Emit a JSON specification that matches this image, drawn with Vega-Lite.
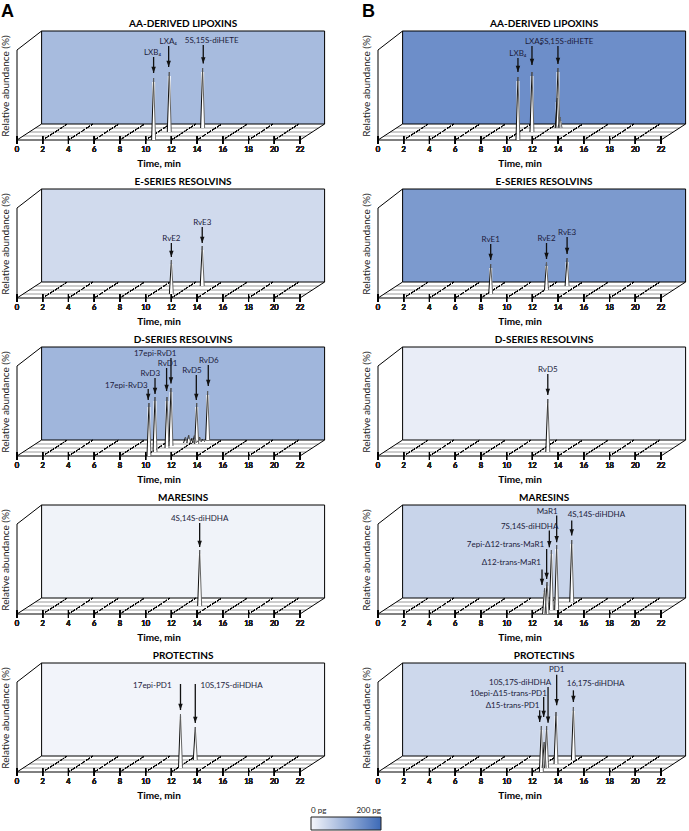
{
"$schema": "https://vega.github.io/schema/vega-lite/v6.json",
"padding": {"left": 0, "top": 1, "right": 0, "bottom": 0},
"background": "white",
"config": {"view": {"stroke": null}, "font": "Lato"},
"bounds": "flush",
"data": {"values": [
{"k":"P","p":"1A","ti":"AA-DERIVED LIPOXINS","pg":85,"ts":[2,4,6,8,10,12,14,16,18,20],"tl":[0,2,4,6,8,10,12,14,16,18,20,22]},
{"k":"P","p":"1B","ti":"AA-DERIVED LIPOXINS","pg":148,"ts":[2,4,6,8,10,12,14,16,18,20],"tl":[0,2,4,6,8,10,12,14,16,18,20,22]},
{"k":"P","p":"2A","ti":"E-SERIES RESOLVINS","pg":40,"ts":[2,4,6,8,10,12,14,16,18,20],"tl":[0,2,4,6,8,10,12,14,16,18,20,22]},
{"k":"P","p":"2B","ti":"E-SERIES RESOLVINS","pg":131,"ts":[2,4,6,8,10,12,14,16,18,20],"tl":[0,2,4,6,8,10,12,14,16,18,20,22]},
{"k":"P","p":"3A","ti":"D-SERIES RESOLVINS","pg":92,"ts":[2,4,6,8,10,12,14,16,18,20],"tl":[0,2,4,6,8,10,12,14,16,18,20,22]},
{"k":"P","p":"3B","ti":"D-SERIES RESOLVINS","pg":13,"ts":[2,4,6,8,10,12,14,16,18,20],"tl":[0,2,4,6,8,10,12,14,16,18,20,22]},
{"k":"P","p":"4A","ti":"MARESINS","pg":5,"ts":[2,4,6,8,10,12,14,16,18,20],"tl":[0,2,4,6,8,10,12,14,16,18,20,22]},
{"k":"P","p":"4B","ti":"MARESINS","pg":49,"ts":[2,4,6,8,10,12,14,16,18,20],"tl":[0,2,4,6,8,10,12,14,16,18,20,22]},
{"k":"P","p":"5A","ti":"PROTECTINS","pg":3,"ts":[2,4,6,8,10,12,14,16,18,20],"tl":[0,2,4,6,8,10,12,14,16,18,20,22]},
{"k":"P","p":"5B","ti":"PROTECTINS","pg":43,"ts":[2,4,6,8,10,12,14,16,18,20],"tl":[0,2,4,6,8,10,12,14,16,18,20,22]},
{"k":"L","p":"1A","s":"A"},{"k":"L","p":"1B","s":"B"},
{"k":"pk","p":"1A","x":10.62,"b":0,"t":62},{"k":"pk","p":"1A","x":11.84,"b":8,"t":68},{"k":"pk","p":"1A","x":14.43,"b":12,"t":72},
{"k":"pk","p":"1B","x":10.88,"b":0,"t":63},{"k":"pk","p":"1B","x":11.97,"b":8,"t":68},{"k":"pk","p":"1B","x":13.99,"b":12,"t":72},{"k":"pk","p":"1B","x":13.93,"b":12,"t":42},{"k":"pk","p":"1B","x":14.15,"b":12,"t":23},
{"k":"pk","p":"2A","x":12.0,"b":4,"t":38},{"k":"pk","p":"2A","x":14.4,"b":12,"t":52},
{"k":"pk","p":"2B","x":8.76,"b":4,"t":34},{"k":"pk","p":"2B","x":13.1,"b":8,"t":36},{"k":"pk","p":"2B","x":14.7,"b":12,"t":40},
{"k":"pk","p":"3A","x":10.26,"b":0,"t":53},{"k":"pk","p":"3A","x":10.73,"b":4,"t":59},{"k":"pk","p":"3A","x":11.66,"b":8,"t":59},{"k":"pk","p":"3A","x":11.97,"b":10,"t":68},{"k":"pk","p":"3A","x":13.97,"b":12,"t":53},{"k":"pk","p":"3A","x":14.82,"b":16,"t":65},
{"k":"pk","p":"3A","x":13.1,"b":13,"t":19},{"k":"pk","p":"3A","x":13.35,"b":13,"t":21},{"k":"pk","p":"3A","x":13.6,"b":13,"t":18},{"k":"pk","p":"3A","x":13.8,"b":13,"t":21},{"k":"pk","p":"3A","x":14.2,"b":14,"t":19},{"k":"pk","p":"3A","x":14.45,"b":14,"t":17},
{"k":"pk","p":"3B","x":13.2,"b":4,"t":57},
{"k":"pk","p":"4A","x":14.2,"b":8,"t":64},
{"k":"pk","p":"4B","x":12.95,"b":0,"t":26},{"k":"pk","p":"4B","x":13.14,"b":0,"t":32},{"k":"pk","p":"4B","x":13.48,"b":4,"t":64},{"k":"pk","p":"4B","x":13.89,"b":4,"t":69},{"k":"pk","p":"4B","x":15.06,"b":12,"t":74},
{"k":"pk","p":"5A","x":12.71,"b":4,"t":58},{"k":"pk","p":"5A","x":13.86,"b":12,"t":45},
{"k":"pk","p":"5B","x":12.7,"b":0,"t":46},{"k":"pk","p":"5B","x":12.92,"b":4,"t":30},{"k":"pk","p":"5B","x":13.11,"b":4,"t":46},{"k":"pk","p":"5B","x":13.84,"b":8,"t":60},{"k":"pk","p":"5B","x":15.19,"b":12,"t":65},
{"k":"a","p":"1A","n":"LXB₄","lx":10.54,"ly":86.6,"ax":10.62,"a1":83,"a2":67},
{"k":"a","p":"1A","n":"LXA₄","lx":11.76,"ly":97.6,"ax":11.79,"a1":94,"a2":73},
{"k":"a","p":"1A","n":"5S,15S-diHETE","lx":15.14,"ly":99,"ax":14.48,"a1":95,"a2":76.5},
{"k":"a","p":"1B","n":"LXB₄","lx":10.88,"ly":86,"ax":10.88,"a1":82,"a2":68},
{"k":"a","p":"1B","n":"LXA₄","lx":12.1,"ly":98.3,"ax":11.97,"a1":94,"a2":75},
{"k":"a","p":"1B","n":"5S,15S-diHETE","lx":14.65,"ly":98.3,"ax":13.99,"a1":94,"a2":76},
{"k":"a","p":"2A","n":"RvE2","lx":12.0,"ly":59,"ax":12.0,"a1":55,"a2":41},
{"k":"a","p":"2A","n":"RvE3","lx":14.4,"ly":75,"ax":14.4,"a1":71,"a2":55},
{"k":"a","p":"2B","n":"RvE1","lx":8.76,"ly":58,"ax":8.76,"a1":54,"a2":38},
{"k":"a","p":"2B","n":"RvE2","lx":13.1,"ly":59,"ax":13.1,"a1":55,"a2":39},
{"k":"a","p":"2B","n":"RvE3","lx":14.7,"ly":65,"ax":14.7,"a1":61,"a2":44},
{"k":"a","p":"3A","n":"17epi-RvD3","lx":8.5,"ly":70,"ax":10.2,"a1":67,"a2":56},
{"k":"a","p":"3A","n":"RvD3","lx":10.36,"ly":82,"ax":10.73,"a1":78,"a2":62},
{"k":"a","p":"3A","n":"RvD1","lx":11.71,"ly":92,"ax":11.63,"a1":88,"a2":65},
{"k":"a","p":"3A","n":"17epi-RvD1","lx":10.74,"ly":102,"ax":11.97,"a1":98,"a2":72.5},
{"k":"a","p":"3A","n":"RvD5","lx":13.6,"ly":85.4,"ax":13.94,"a1":81,"a2":56},
{"k":"a","p":"3A","n":"RvD6","lx":14.91,"ly":95,"ax":14.87,"a1":91,"a2":70},
{"k":"a","p":"3B","n":"RvD5","lx":13.2,"ly":86,"ax":13.2,"a1":82,"a2":61},
{"k":"a","p":"4A","n":"4S,14S-diHDHA","lx":14.2,"ly":94.7,"ax":14.2,"a1":91,"a2":67},
{"k":"a","p":"4B","n":"MaR1","lx":13.15,"ly":102.4,"ax":13.89,"a1":98.4,"a2":71.7},
{"k":"a","p":"4B","n":"7S,14S-diHDHA","lx":11.79,"ly":87.4,"ax":13.32,"a1":83.4,"a2":66.7},
{"k":"a","p":"4B","n":"7epi-Δ12-trans-MaR1","lx":9.91,"ly":69.4,"ax":13.11,"a1":65,"a2":35},
{"k":"a","p":"4B","n":"Δ12-trans-MaR1","lx":10.37,"ly":51,"ax":12.75,"a1":44.4,"a2":29},
{"k":"a","p":"4B","n":"4S,14S-diHDHA","lx":16.98,"ly":99.4,"ax":15.06,"a1":93.4,"a2":78.4},
{"k":"a","p":"5A","n":"17epi-PD1","lx":10.52,"ly":86,"ax":12.71,"a1":88,"a2":62},
{"k":"a","p":"5A","n":"10S,17S-diHDHA","lx":16.68,"ly":86,"ax":13.86,"a1":88,"a2":49},
{"k":"a","p":"5B","n":"PD1","lx":13.89,"ly":101.7,"ax":13.89,"a1":97.3,"a2":66.7},
{"k":"a","p":"5B","n":"10S,17S-diHDHA","lx":11.05,"ly":89.3,"ax":13.22,"a1":85,"a2":49.3},
{"k":"a","p":"5B","n":"10epi-Δ15-trans-PD1","lx":10.14,"ly":77.7,"ax":12.88,"a1":75,"a2":55},
{"k":"a","p":"5B","n":"Δ15-trans-PD1","lx":10.46,"ly":66,"ax":12.57,"a1":61.7,"a2":50},
{"k":"a","p":"5B","n":"16,17S-diHDHA","lx":16.92,"ly":87.7,"ax":15.19,"a1":81.7,"a2":70}
]},
"facet": {"field": "p", "type": "nominal", "title": null, "header": {"labels": false, "title": null, "labelExpr": "''", "labelPadding": 0, "labelFontSize": 1}},
"columns": 2,
"spacing": {"row": 49, "column": 53},
"resolve": {"axis": {"x": "independent", "y": "independent"}},
"spec": {
"width": 307.6, "height": 109,
"layer": [
{"transform": [{"filter": "datum.k=='P'"}],
 "mark": {"type": "rect", "stroke": "#000", "strokeWidth": 1},
 "encoding": {
  "x": {"datum": 1.913, "type": "quantitative", "scale": {"domain": [0, 23.913], "nice": false, "zero": false},
        "axis": {"domain": false, "grid": false, "ticks": false, "labels": false, "title": "Time, min", "titleFontSize": 10, "titleFontWeight": "bold", "titleFont": "Lato", "titleColor": "#000", "titleX": 141.5, "titleY": 18.5, "titleBaseline": "top"}},
  "x2": {"datum": 23.913},
  "y": {"datum": 16, "type": "quantitative", "scale": {"domain": [0, 109], "nice": false, "zero": false},
        "axis": {"domain": false, "ticks": false, "labels": false, "grid": false, "title": "Relative abundance (%)", "titleFontSize": 10, "titleFontWeight": "normal", "titleFont": "Lato", "titleColor": "#222", "titlePadding": 7}},
  "y2": {"datum": 109},
  "color": {"field": "pg", "type": "quantitative", "scale": {"domain": [0, 200], "range": ["#f5f6fb", "#3d6ab7"], "interpolate": "rgb"},
            "legend": {"orient": "none", "legendX": 294, "legendY": 786, "direction": "horizontal", "gradientLength": 70, "gradientThickness": 13, "title": null, "values": [0, 200], "labelExpr": "datum.value + ' pg'", "labelOffset": -23, "labelFontSize": 8, "labelFont": "Lato", "labelColor": "#222", "gradientStrokeColor": "#222", "gradientStrokeWidth": 1}}
 }},
{"transform": [{"filter": "datum.k=='P'"}], "mark": {"type": "rule", "color": "#999", "strokeWidth": 1},
 "encoding": {"x": {"datum": 0.478}, "x2": {"datum": 22.478}, "y": {"datum": 4}}},
{"transform": [{"filter": "datum.k=='P'"}], "mark": {"type": "rule", "color": "#999", "strokeWidth": 1},
 "encoding": {"x": {"datum": 0.957}, "x2": {"datum": 22.957}, "y": {"datum": 8}}},
{"transform": [{"filter": "datum.k=='P'"}], "mark": {"type": "rule", "color": "#999", "strokeWidth": 1},
 "encoding": {"x": {"datum": 1.435}, "x2": {"datum": 23.435}, "y": {"datum": 12}}},
{"transform": [{"filter": "datum.k=='P'"}, {"flatten": ["ts"], "as": ["t1"]}], "mark": {"type": "rule", "color": "#000", "strokeWidth": 0.8, "strokeDash": [1.5, 1.5], "x2Offset": 24.6},
 "encoding": {"x": {"field": "t1", "type": "quantitative"}, "x2": {"field": "t1"}, "y": {"datum": 0}, "y2": {"datum": 16}}},
{"transform": [{"filter": "datum.k=='P'"}, {"flatten": ["tl"], "as": ["t2"]}], "mark": {"type": "tick", "color": "#000", "thickness": 1, "size": 8, "orient": "vertical"},
 "encoding": {"x": {"field": "t2", "type": "quantitative"}, "y": {"datum": 0}}},
{"transform": [{"filter": "datum.k=='P'"}, {"flatten": ["tl"], "as": ["t3"]}], "mark": {"type": "text", "fontSize": 7.5, "font": "Lato", "color": "#222", "baseline": "middle", "dy": 10},
 "encoding": {"x": {"field": "t3", "type": "quantitative"}, "y": {"datum": 0}, "text": {"field": "t3", "type": "nominal"}}},
{"transform": [{"filter": "datum.k=='P'"}], "mark": {"type": "rule", "color": "#000", "strokeWidth": 1},
 "encoding": {"x": {"datum": 0}, "x2": {"datum": 22}, "y": {"datum": 0}}},
{"transform": [{"filter": "datum.k=='P'"}], "mark": {"type": "rule", "color": "#000", "strokeWidth": 1},
 "encoding": {"x": {"datum": 0}, "x2": {"datum": 1.913}, "y": {"datum": 0}, "y2": {"datum": 16}}},
{"transform": [{"filter": "datum.k=='P'"}], "mark": {"type": "rule", "color": "#000", "strokeWidth": 1},
 "encoding": {"x": {"datum": 22}, "x2": {"datum": 23.913}, "y": {"datum": 0}, "y2": {"datum": 16}}},
{"transform": [{"filter": "datum.k=='P'"}], "mark": {"type": "rule", "color": "#000", "strokeWidth": 1},
 "encoding": {"x": {"datum": 0}, "y": {"datum": 0}, "y2": {"datum": 90}}},
{"transform": [{"filter": "datum.k=='P'"}], "mark": {"type": "rule", "color": "#000", "strokeWidth": 1},
 "encoding": {"x": {"datum": 0}, "x2": {"datum": 1.913}, "y": {"datum": 90}, "y2": {"datum": 109}}},
{"transform": [{"filter": "datum.k=='P'"}], "mark": {"type": "text", "fontSize": 10, "fontWeight": "bold", "font": "Lato", "color": "#000", "baseline": "middle", "dy": -7},
 "encoding": {"x": {"datum": 12.913}, "y": {"datum": 109}, "text": {"field": "ti"}}},
{"transform": [{"filter": "datum.k=='L'"}], "mark": {"type": "text", "fontSize": 18, "fontWeight": "bold", "font": "Liberation Sans", "color": "#000", "align": "left", "baseline": "alphabetic"},
 "encoding": {"x": {"datum": -1.25}, "y": {"datum": 123.5}, "text": {"field": "s"}}},
{"transform": [{"filter": "datum.k=='pk'"}], "mark": {"type": "rule", "color": "#fff", "strokeWidth": 3, "y2Offset": 4},
 "encoding": {"x": {"field": "x", "type": "quantitative"}, "x2": {"field": "x"}, "y": {"field": "b", "type": "quantitative"}, "y2": {"field": "t"}}},
{"transform": [{"filter": "datum.k=='pk'"}], "mark": {"type": "rule", "color": "#111", "strokeWidth": 1, "xOffset": -2},
 "encoding": {"x": {"field": "x", "type": "quantitative"}, "x2": {"field": "x"}, "y": {"field": "b", "type": "quantitative"}, "y2": {"field": "t"}}},
{"transform": [{"filter": "datum.k=='pk'"}], "mark": {"type": "rule", "color": "#666", "strokeWidth": 1, "xOffset": 2},
 "encoding": {"x": {"field": "x", "type": "quantitative"}, "x2": {"field": "x"}, "y": {"field": "b", "type": "quantitative"}, "y2": {"field": "t"}}},
{"transform": [{"filter": "datum.k=='a'"}], "mark": {"type": "rule", "color": "#111", "strokeWidth": 1.3},
 "encoding": {"x": {"field": "ax", "type": "quantitative"}, "y": {"field": "a1", "type": "quantitative"}, "y2": {"field": "a2"}}},
{"transform": [{"filter": "datum.k=='a'"}], "mark": {"type": "point", "shape": "M-0.7,-2L0.7,-2L0,0Z", "filled": true, "color": "#111", "size": 40, "opacity": 1},
 "encoding": {"x": {"field": "ax", "type": "quantitative"}, "y": {"field": "a2", "type": "quantitative"}}},
{"transform": [{"filter": "datum.k=='a'"}], "mark": {"type": "text", "fontSize": 8, "font": "Lato", "color": "#1c1c3c", "baseline": "middle"},
 "encoding": {"x": {"field": "lx", "type": "quantitative"}, "y": {"field": "ly", "type": "quantitative"}, "text": {"field": "n"}}}
]}
}
